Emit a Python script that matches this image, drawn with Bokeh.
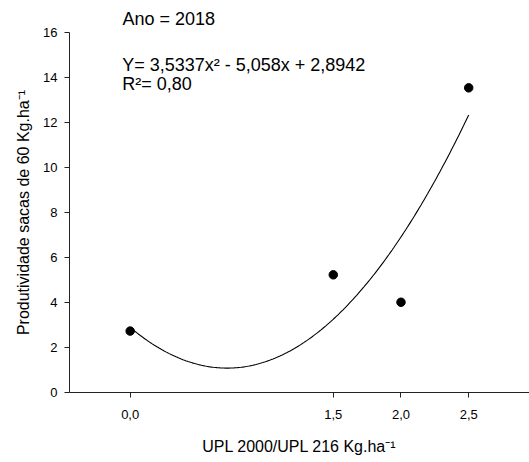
import numpy as np
from bokeh.plotting import figure
from bokeh.models import FixedTicker, CustomJSTickFormatter, Label
from bokeh.embed import file_html
from bokeh.resources import INLINE

# data
doses = [0.0, 1.5, 2.0, 2.5]
produtividade = [2.73, 5.23, 4.01, 13.54]
x_ticks = [0.0, 1.5, 2.0, 2.5]
y_ticks = [0, 2, 4, 6, 8, 10, 12, 14, 16]
# fitted quadratic shown on the chart: Y = a x^2 + b x + c
coef_a, coef_b, coef_c = 3.5337, -5.058, 2.8942

FONT = "Liberation Sans"

p = figure(width=529, height=462, output_backend="svg", toolbar_location=None,
           x_range=(-0.448, 2.949), y_range=(0, 16),
           min_border_left=69, min_border_right=0, min_border_top=32, min_border_bottom=70,
           title="Ano = 2018")
p.title.text_font = FONT
p.title.text_font_size = "18px"
p.title.text_font_style = "normal"
p.title.text_color = "black"
p.title.align = "left"
p.title.offset = 53
p.title.standoff = 7

p.outline_line_color = None
p.xgrid.visible = False
p.ygrid.visible = False
p.background_fill_color = "white"
p.border_fill_color = "white"

for ax in (p.xaxis, p.yaxis):
    ax.axis_line_color = "#222222"
    ax.axis_line_width = 1
    ax.major_tick_line_color = "#222222"
    ax.major_tick_in = 0
    ax.major_tick_out = 5
    ax.minor_tick_line_color = None
    ax.major_label_text_font = FONT
    ax.major_label_text_font_size = "13px"
    ax.major_label_text_color = "black"
    ax.axis_label_text_font = FONT
    ax.axis_label_text_font_style = "normal"
    ax.axis_label_text_color = "black"
    ax.axis_label_text_font_size = "16px"

p.xaxis.ticker = FixedTicker(ticks=x_ticks)
p.xaxis.formatter = CustomJSTickFormatter(code="return tick.toFixed(1).replace('.', ',');")
p.xaxis.major_label_standoff = 12
p.xaxis.axis_label = "UPL 2000/UPL 216 Kg.ha⁻¹"
p.xaxis.axis_label_standoff = 16

p.yaxis.ticker = FixedTicker(ticks=y_ticks)
p.yaxis.major_label_standoff = 7
p.yaxis.axis_label = "Produtividade sacas de 60 Kg.ha⁻¹"
p.yaxis.axis_label_standoff = 8

# fitted curve
xs = np.linspace(min(doses), max(doses), 200)
ys = coef_a * xs**2 + coef_b * xs + coef_c
p.line(xs, ys, line_color="black", line_width=1.1)

# observed points
p.scatter(doses, produtividade, size=8.5, color="black")

def lab(x, y, text, size, **kw):
    p.add_layout(Label(x=x, y=y, text=text, text_font=FONT, text_font_size=size,
                       text_color="black", **kw))

lab(-0.059, 14.54, "Y= 3,5337x² - 5,058x + 2,8942", "18px", text_baseline="alphabetic")
lab(-0.059, 13.69, "R²= 0,80", "18px", text_baseline="alphabetic")

open("out.html", "w").write(file_html(p, INLINE))
